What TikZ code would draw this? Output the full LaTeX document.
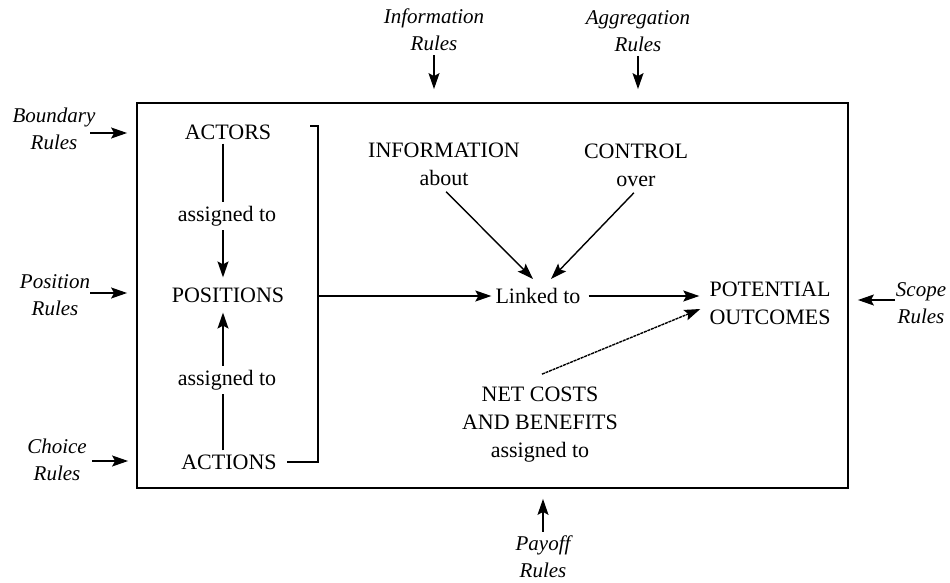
\documentclass[tikz,border=0pt]{standalone}
\usepackage{fontspec}
\setmainfont{Liberation Serif}
\usetikzlibrary{arrows.meta}
\begin{document}
\begin{tikzpicture}[x=1pt,y=-1pt,
  lbl/.style={font=\fontsize{22}{28}\selectfont, inner sep=4pt, align=center},
  rulelbl/.style={font=\fontsize{21}{27}\selectfont\itshape, inner sep=4pt, align=center},
  arr/.style={-{Stealth[length=16pt,width=11pt,inset=3pt]}, line width=1.4pt},
  ln/.style={line width=1.4pt}]
\useasboundingbox (0,0) rectangle (950,583);
% main frame
\node[draw, line width=1.8pt, minimum width=711pt, minimum height=385pt, inner sep=0pt] (frame) at (492.5,295.5) {};
% left column
\node[lbl] (actors) at (228,132) {ACTORS};
\node[lbl] (as1) at (227,216) {assigned to};
\node[lbl] (positions) at (228,295) {POSITIONS};
\node[lbl] (as2) at (227,380) {assigned to};
\node[lbl] (actions) at (229,462) {ACTIONS};
\coordinate (xl) at (223,0);
\coordinate (bx) at (318,0);
\coordinate (tick) at (310,126);
% centre
\node[lbl] (info) at (444,164) {INFORMATION\\about};
\node[lbl] (ctrl) at (636,165) {CONTROL\\over};
\node[lbl] (linked) at (538,296) {Linked to};
\node[lbl] (outcomes) at (770,303) {POTENTIAL\\OUTCOMES};
\node[lbl] (net) at (540,425) {NET COSTS\\AND BENEFITS\\assigned to};
% rule labels
\node[rulelbl] (brule) at (54,129) {Boundary\\Rules};
\node[rulelbl] (prule) at (55,295) {Position\\Rules};
\node[rulelbl] (crule) at (57,460) {Choice\\Rules};
\node[rulelbl] (irule) at (434,30) {Information\\Rules};
\node[rulelbl] (arule) at (638,31) {Aggregation\\Rules};
\node[rulelbl] (payrule) at (543,557) {Payoff\\Rules};
\node[rulelbl] (srule) at (921,303) {Scope\\Rules};
\coordinate (b0) at (90,133);
\coordinate (p0) at (90,293);
\coordinate (c0) at (92,461);
\coordinate (s0) at (895,300);
\coordinate (t1) at (533,279);
\coordinate (t2) at (551,279);
% left column connectors
\draw[ln] (actors.south -| xl) -- (as1.north -| xl);
\draw[arr, shorten >=6pt] (as1.south -| xl) -- (positions.north -| xl);
\draw[ln] (actions.north -| xl) -- (as2.south -| xl);
\draw[arr, shorten >=6pt] (as2.north -| xl) -- (positions.south -| xl);
% bracket
\draw[ln] (tick) -| (bx |- actions.east) -- ([xshift=6pt]actions.east);
\draw[arr] (bx |- linked.west) -- (linked.west);
% centre connectors
\draw[arr, shorten <=3pt] (info.south) -- (t1);
\draw[arr, shorten <=3pt] (ctrl.south) -- (t2);
\draw[arr, shorten <=4pt, shorten >=6pt] (linked.east) -- (outcomes.west |- linked.east);
\draw[arr, dash pattern=on 3pt off 0.8pt] ([xshift=2pt,yshift=9pt]net.north) -- ([xshift=-5pt,yshift=-6pt]outcomes.west);
% rule arrows
\draw[arr, shorten >=9pt] (b0) -- (b0 -| frame.west);
\draw[arr, shorten >=9pt] (p0) -- (p0 -| frame.west);
\draw[arr, shorten >=8pt] (c0) -- (c0 -| frame.west);
\draw[arr, shorten >=9pt] (s0) -- (s0 -| frame.east);
\draw[arr, shorten >=13pt] (irule.south) -- (irule.south |- frame.north);
\draw[arr, shorten >=13pt] (arule.south) -- (arule.south |- frame.north);
\draw[arr, shorten >=10pt] (payrule.north) -- (payrule.north |- frame.south);
\end{tikzpicture}
\end{document}
